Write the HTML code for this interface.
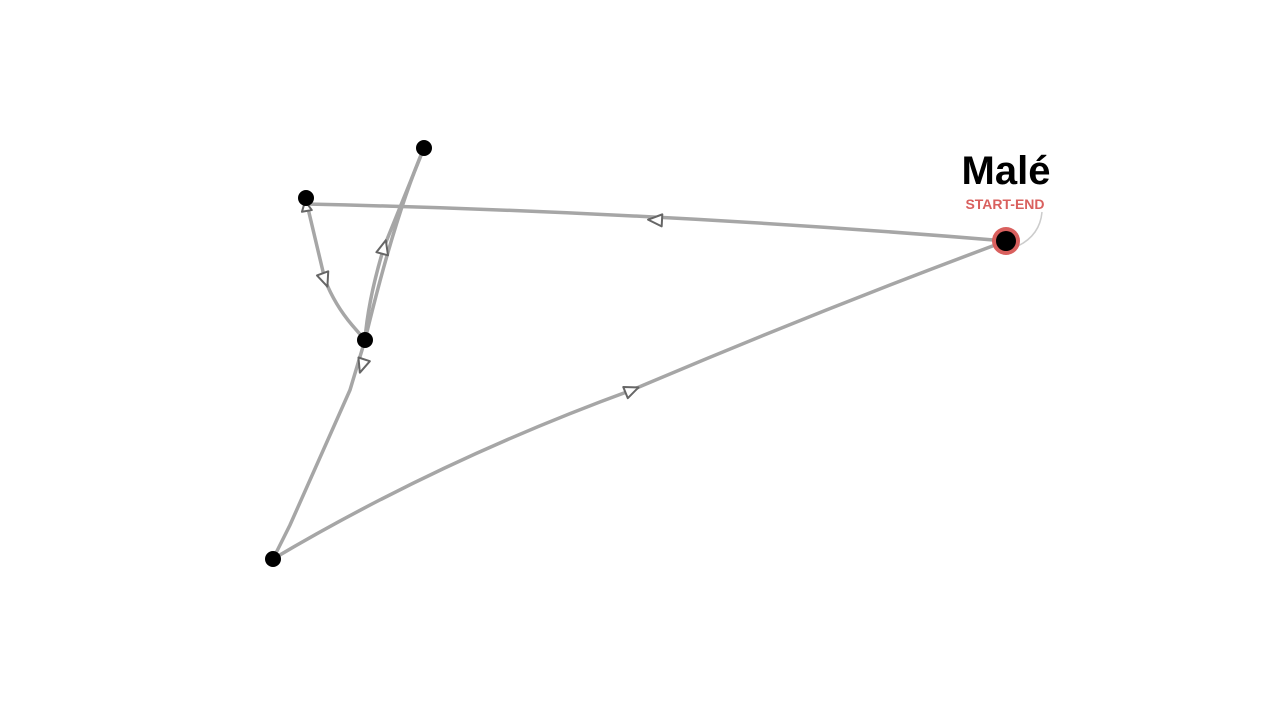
<!DOCTYPE html>
<html><head><meta charset="utf-8"><style>
html,body{margin:0;padding:0;background:#fff;width:1280px;height:720px;overflow:hidden}
</style></head><body>
<svg width="1280" height="720" viewBox="0 0 1280 720" xmlns="http://www.w3.org/2000/svg">
<g fill="none" stroke="#a6a6a6" stroke-width="3.5" stroke-linecap="round">
<path d="M1006,241 Q660,212 306,204"/>
<path d="M306,200 L325,280 Q335,305 352,325 L365,340"/>
<path d="M365,340 Q368,300 384,247 L424,148"/>
<path d="M424,148 Q395,215 365,340"/>
<path d="M365,340 L350,390 L290,525 L273,559"/>
<path d="M273,559 Q440,460 632,390 Q820,310 1006,241"/>
</g>
<path d="M1018,246 Q1040,235 1042,212" fill="none" stroke="#ccc" stroke-width="1.5"/>
<g fill="#fff" stroke="#666" stroke-width="2" stroke-linejoin="round">
<path d="M-7,-6 L7,0 L-7,6 Z" transform="translate(655,220) rotate(183)"/>
<path d="M-7,-6 L7,0 L-7,6 Z" transform="translate(325,280) rotate(70)"/>
<path d="M-7,-6 L7,0 L-7,6 Z" transform="translate(384,247) rotate(-75)"/>
<path d="M-7,-6 L7,0 L-7,6 Z" transform="translate(362,366) rotate(108)"/>
<path d="M-7,-6 L7,0 L-7,6 Z" transform="translate(632,390) rotate(-22)"/>
<path d="M-5,-5 L5,0 L-5,5 Z" transform="translate(306,206) rotate(-100)"/>
</g>
<circle cx="424" cy="148" r="8" fill="#000"/>
<circle cx="306" cy="198" r="8" fill="#000"/>
<circle cx="365" cy="340" r="8" fill="#000"/>
<circle cx="273" cy="559" r="8" fill="#000"/>
<circle cx="1006" cy="241" r="14" fill="#d9605e"/>
<circle cx="1006" cy="241" r="10" fill="#000"/>
<text x="1006" y="184" text-anchor="middle" font-family="Liberation Sans, sans-serif" font-weight="bold" font-size="40" fill="#000">Malé</text>
<text x="1005" y="209" text-anchor="middle" font-family="Liberation Sans, sans-serif" font-weight="bold" font-size="14" fill="#d9605e">START-END</text>
</svg>
</body></html>
